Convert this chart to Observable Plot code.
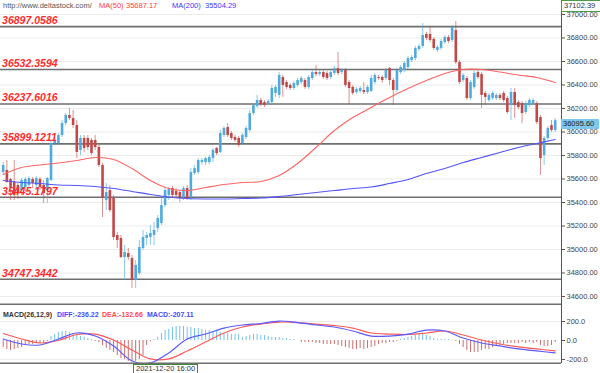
<!DOCTYPE html>
<html>
<head>
<meta charset="utf-8">
<script src="https://cdn.jsdelivr.net/npm/d3@7"></script>
<script src="https://cdn.jsdelivr.net/npm/@observablehq/plot@0.6"></script>
<style>
  html, body { margin: 0; padding: 0; background: #fff; }
  #wrap { position: relative; width: 600px; height: 373px; overflow: hidden; font-family: "Liberation Sans", Arial, sans-serif; }
  .abs { position: absolute; white-space: nowrap; line-height: 1; }
  #wrap svg { position: absolute; left: 0; }
</style>
</head>
<body>
<div id="wrap"></div>
<script>
// ---------- data ----------
const opens = [
35655,35672,35596,35570,35545,35502,35528,35545,35596,35545,
35596,35545,35502,35587,35902,35902,35970,36072,36140,36115,
36055,35843,35945,35945,35928,35928,35868,35715,35417,35502,
35434,35119,35094,34932,34966,34923,34736,34796,35009,35094,
35102,35119,35179,35221,35374,35460,35519,35494,35485,35442,
35519,35442,35647,35655,35740,35740,35740,35774,35860,35826,
35970,36038,35987,35953,35945,35902,35953,36013,36157,36217,
36268,36251,36242,36251,36328,36311,36464,36421,36396,36370,
36396,36421,36438,36379,36455,36506,36489,36506,36498,36464,
36498,36540,36506,36523,36421,36379,36336,36345,36353,36336,
36345,36421,36464,36464,36455,36540,36438,36353,36506,36523,
36549,36608,36625,36702,36728,36830,36830,36787,36694,36711,
36762,36804,36779,36864,36591,36438,36455,36285,36379,36506,
36489,36328,36268,36285,36285,36311,36328,36285,36225,36336,
36251,36242,36166,36225,36242,36242,36123,35800,35945,36055,
36013];
const closes = [
35715,35570,35528,35460,35485,35587,35596,35604,35562,35604,
35528,35476,35604,35902,35928,35970,36072,36140,36115,36055,
35826,35945,35860,35868,35817,35868,35715,35434,35485,35332,
35102,35077,34932,34975,34932,34736,34864,35017,35102,35119,
35136,35162,35264,35374,35502,35511,35460,35460,35442,35519,
35434,35655,35689,35757,35757,35774,35783,35843,35817,35987,
36030,35970,35945,35928,35885,35970,36030,36157,36225,36268,
36234,36225,36259,36370,36379,36481,36396,36379,36370,36413,
36438,36455,36379,36464,36506,36489,36506,36464,36455,36506,
36540,36498,36523,36396,36370,36328,36362,36370,36336,36379,
36455,36481,36455,36438,36523,36438,36353,36523,36549,36583,
36625,36634,36711,36728,36821,36796,36779,36711,36719,36770,
36804,36770,36889,36591,36421,36481,36285,36421,36498,36464,
36311,36294,36311,36328,36311,36285,36268,36166,36336,36225,
36208,36157,36242,36268,36268,36081,35774,35945,36030,36013,
36096];
const highs = [
35740,35757,35604,35757,35562,35604,35613,35621,35613,35621,
35613,35587,35613,35928,35945,35987,36098,36157,36200,36183,
36098,35970,35970,35970,35945,35970,35885,35732,35562,35545,
35460,35145,35119,35034,35009,34949,34906,35077,35162,35145,
35204,35230,35289,35434,35528,35528,35536,35519,35502,35536,
35545,35689,35715,35774,35774,35783,35800,35860,35868,36013,
36047,36072,36004,35970,35962,35987,36047,36183,36242,36311,
36285,36268,36276,36396,36396,36506,36481,36438,36413,36430,
36455,36472,36455,36481,36523,36566,36523,36523,36515,36523,
36557,36676,36540,36540,36438,36396,36379,36387,36421,36396,
36481,36498,36481,36481,36540,36549,36455,36540,36566,36600,
36642,36651,36728,36745,36923,36847,36889,36804,36736,36787,
36821,36821,36906,36940,36608,36498,36472,36438,36515,36523,
36506,36345,36328,36345,36328,36328,36345,36302,36370,36370,
36268,36259,36259,36285,36285,36259,36140,35962,36047,36098,
36115];
const lows = [
35630,35562,35417,35417,35425,35460,35485,35502,35519,35502,
35502,35391,35391,35579,35885,35885,35953,36055,36098,36030,
35774,35800,35826,35843,35800,35843,35698,35272,35332,35315,
35077,35009,34923,34736,34906,34668,34668,34779,34992,35034,
35034,35034,35145,35204,35357,35417,35434,35434,35400,35417,
35417,35417,35630,35638,35715,35715,35723,35740,35800,35817,
35953,35953,35928,35911,35868,35885,35936,35996,36140,36200,
36217,36208,36225,36234,36294,36285,36294,36362,36353,36353,
36379,36404,36362,36362,36438,36472,36472,36447,36438,36447,
36481,36481,36489,36379,36234,36311,36319,36328,36319,36319,
36336,36404,36438,36413,36438,36396,36225,36336,36489,36506,
36532,36591,36608,36685,36711,36779,36762,36694,36676,36694,
36745,36753,36762,36574,36404,36421,36268,36268,36362,36447,
36200,36225,36251,36268,36268,36268,36251,36149,36098,36115,
36191,36072,36149,36208,36225,36064,35630,35715,35928,35996,
35996];

const levels = [36897.0586, 36532.3594, 36237.6016, 35899.1211, 35445.1797, 34747.3442];
const levelLabels = ["36897.0586", "36532.3594", "36237.6016", "35899.1211", "35445.1797", "34747.3442"];
const priceTicks = [34600, 34800, 35000, 35200, 35400, 35600, 35800, 36000, 36200, 36400, 36600, 36800, 37000];

const maIdx = [0,5,10,15,20,25,30,35,40,45,50,55,60,65,70,75,80,85,90,95,100,105,110,115,120,125,130,135,140,145,150];
const ma50 = [35638,35698,35719,35736,35757,35783,35766,35689,35587,35519,35502,35528,35553,35570,35579,35630,35732,35868,36013,36123,36208,36294,36370,36438,36498,36532,36532,36510,36485,36464,36421];
const ma200 = [35587,35570,35562,35549,35545,35536,35519,35494,35468,35447,35434,35430,35430,35434,35438,35451,35468,35485,35502,35519,35532,35562,35596,35647,35689,35740,35783,35826,35868,35902,35936];

const macdHist = [
-74,-95,-105,-95,-84,-74,-53,-42,-42,-32,-32,-32,-11,
42,63,84,95,95,84,74,63,42,32,21,11,
-11,-21,-53,-84,-105,-126,-158,-189,-200,-221,-221,-221,-200,-158,-53,-11,
11,32,74,105,116,137,147,147,147,137,137,126,126,116,105,105,95,95,84,74,74,63,63,63,32,42,53,63,63,53,53,42,32,32,32,21,21,11,11,0,
-21,-21,-21,-21,-32,-32,-42,-42,-42,-42,-53,-63,-74,-84,-95,-95,-84,-95,-84,-74,-63,-42,-32,-32,-21,-21,-11,
11,21,32,42,53,63,63,53,42,21,11,11,11,11,0,
-11,-42,-74,-105,-126,-126,-126,-105,-95,-95,-74,-63,-63,-42,-32,-32,-32,-32,-21,-32,-21,-32,-21,-53,-63,-63,-53,-21];
const diffLine = [16,-37,-47,16,79,47,-58,-215,-236,-131,16,68,131,163,179,205,189,163,142,100,47,47,68,110,100,26,-26,-58,-89,-110,-131];
const deaLine = [74,16,-26,0,63,68,5,-100,-194,-194,-110,-16,79,142,173,194,189,173,158,131,79,68,63,79,100,58,5,-37,-68,-89,-110];
const macdTicks = [-200, 0, 200];

// ---------- build tables ----------
const candles = opens.map((o, i) => ({i, open: o, close: closes[i], high: highs[i], low: lows[i]}));
const up = candles.filter(d => d.close >= d.open);
const down = candles.filter(d => d.close < d.open);
const maRows = maIdx.map((i, k) => ({i, ma50: ma50[k], ma200: ma200[k], diff: diffLine[k], dea: deaLine[k]}));
const hist = macdHist.map((v, i) => ({i, v}));

const BLUE = "#4faadd", RED = "#c24848";
const FONT = "Liberation Sans, Arial, sans-serif";
const xDomain = [-0.73, 151.72];

const main = Plot.plot({
  width: 600, height: 303,
  marginLeft: 0, marginRight: 39, marginTop: 0, marginBottom: 0,
  style: {background: "transparent", fontFamily: FONT, overflow: "visible"},
  x: {domain: xDomain, axis: null},
  y: {domain: [34540.5, 37119], axis: null},
  marks: [
    Plot.ruleY(priceTicks, {stroke: "#ebebeb", strokeWidth: 1}),
    Plot.ruleY(levels, {stroke: "#6e6e6e", strokeWidth: 1.6}),
    Plot.ruleX(up, {x: "i", y1: "low", y2: "high", stroke: BLUE, strokeOpacity: 0.65, strokeWidth: 1}),
    Plot.ruleX(down, {x: "i", y1: "low", y2: "high", stroke: RED, strokeOpacity: 0.6, strokeWidth: 1}),
    Plot.ruleX(up, {x: "i", y1: "open", y2: "close", stroke: BLUE, strokeWidth: 2.6}),
    Plot.ruleX(down, {x: "i", y1: "open", y2: "close", stroke: RED, strokeWidth: 2.6}),
    Plot.line(maRows, {x: "i", y: "ma50", stroke: "#ff6464", strokeWidth: 1.1, curve: "catmull-rom"}),
    Plot.line(maRows, {x: "i", y: "ma200", stroke: "#5454ff", strokeWidth: 1.1, curve: "catmull-rom"}),
    Plot.text(levels, {x: -0.3, y: d => d, text: (d, i) => levelLabels[i], textAnchor: "start", dy: -6,
      fill: "#ff2b2b", fontWeight: "bold", fontStyle: "italic", fontSize: 10.5, fontFamily: FONT}),
    Plot.axisY(priceTicks, {anchor: "right", tickSize: 3, tickPadding: 2, tickFormat: d => d.toFixed(2),
      fontSize: 7.5, fill: "#444", stroke: "#555", fontFamily: FONT}),
    Plot.ruleX([xDomain[1]], {stroke: "#555", strokeWidth: 1})
  ]
});
main.style.top = "0px";

const macd = Plot.plot({
  width: 600, height: 70,
  marginLeft: 0, marginRight: 39, marginTop: 0, marginBottom: 10,
  style: {background: "transparent", fontFamily: FONT, overflow: "visible"},
  x: {domain: xDomain, axis: null},
  y: {domain: [-242, 389.5], axis: null},
  marks: [
    Plot.ruleY([200, -200], {stroke: "#ececec"}),
    Plot.ruleX(hist.filter(d => d.v >= 0), {x: "i", y1: 0, y2: "v", stroke: "#74c0e8", strokeWidth: 1}),
    Plot.ruleX(hist.filter(d => d.v < 0), {x: "i", y1: 0, y2: "v", stroke: "#cc6f6f", strokeWidth: 1}),
    Plot.line(maRows, {x: "i", y: "dea", stroke: "#ff5a5a", strokeWidth: 1.2, curve: "catmull-rom"}),
    Plot.line(maRows, {x: "i", y: "diff", stroke: "#5a5aff", strokeWidth: 1.2, curve: "catmull-rom"}),
    Plot.axisY(macdTicks, {anchor: "right", tickSize: 3, tickPadding: 2, tickFormat: d => d.toFixed(1),
      fontSize: 7.5, fill: "#444", stroke: "#555", fontFamily: FONT}),
    Plot.ruleY([382], {stroke: "#6e6e6e", strokeWidth: 1.6}),
    Plot.ruleY([-240], {stroke: "#6e6e6e", strokeWidth: 1.4}),
    Plot.ruleX([xDomain[1]], {stroke: "#555", strokeWidth: 1})
  ]
});
macd.style.top = "303px";

const wrap = document.getElementById("wrap");
wrap.appendChild(main);
wrap.appendChild(macd);

function addText(txt, left, top, color, size, extra) {
  const s = document.createElement("div");
  s.className = "abs";
  s.textContent = txt;
  s.style.left = left + "px";
  s.style.top = top + "px";
  s.style.color = color;
  s.style.fontSize = size + "px";
  if (extra) Object.assign(s.style, extra);
  wrap.appendChild(s);
  return s;
}
// header
addText("http://www.deltastock.com/", 3, 2, "#555", 7.5);
addText("MA(50)", 99, 2, "#ff4040", 7.5);
addText("35687.17", 126, 2, "#ff4040", 7.5);
addText("MA(200)", 172, 2, "#3a3aff", 7.5);
addText("35504.29", 205, 2, "#3a3aff", 7.5);
// price boxes
addText("37102.39", 561, 0, "#333", 7.5, {border: "1px solid #4a9a4a", background: "#fff", padding: "1px 5px 1px 2px"});
addText("36095.60", 561, 119, "#222", 7.5, {background: "#7cc8ef", padding: "1px 5px 1px 2px"});
// macd header
addText("MACD(26,12,9)", 3, 311, "#333", 7, {fontWeight: "bold"});
addText("DIFF:-236.22", 57, 311, "#4a4aff", 7, {fontWeight: "bold"});
addText("DEA:-132.66", 102, 311, "#ff4a4a", 7, {fontWeight: "bold"});
addText("MACD:-207.11", 147, 311, "#4a4aff", 7, {fontWeight: "bold"});
// time box
addText("2021-12-20 16:00", 133, 364, "#333", 7.5, {border: "1px solid #3a8a3a", background: "#fff", padding: "0px 2px"});
</script>
</body>
</html>
